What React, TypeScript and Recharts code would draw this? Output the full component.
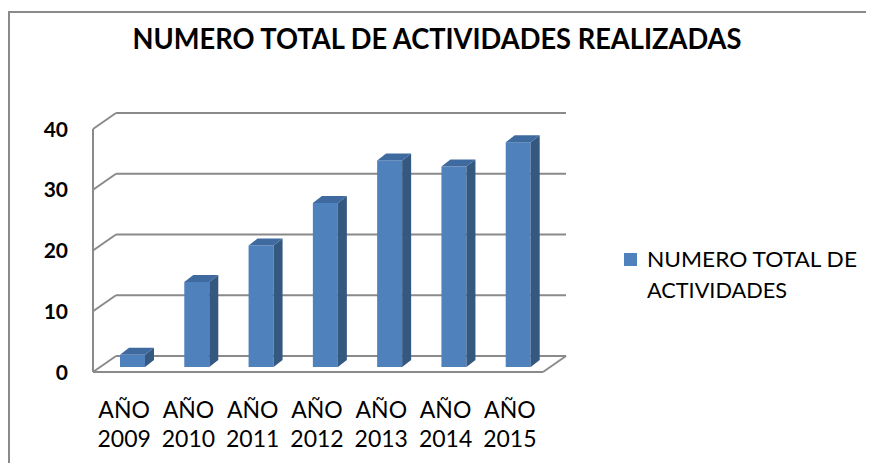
import React from 'react';
import { BarChart, Bar, XAxis, YAxis, CartesianGrid } from 'recharts';

const years = ['AÑO 2009', 'AÑO 2010', 'AÑO 2011', 'AÑO 2012', 'AÑO 2013', 'AÑO 2014', 'AÑO 2015'];
const totals = [2, 14, 20, 27, 34, 33, 37];
const yTicks = [0, 10, 20, 30, 40];
const seriesName = 'NUMERO TOTAL DE ACTIVIDADES';
const legendLines = ['NUMERO TOTAL DE', 'ACTIVIDADES'];
const title = 'NUMERO TOTAL DE ACTIVIDADES REALIZADAS';

const data = years.map((name, i) => ({ name, total: totals[i] }));

const W = 874;
const H = 471;
const MARGIN = { top: 124, right: 324, bottom: 44, left: 40 };
const XAXIS_H = 60;
const PLOT_TOP = MARGIN.top;
const PLOT_BOTTOM = H - MARGIN.bottom - XAXIS_H;

// perspective offsets from the bar plane
const FRONT = { dx: -7, dy: 5 };
const BACK = { dx: 16, dy: -11 };
const DEPTH = { dx: 9, dy: -7 };

const FONT = 'Lato, "Open Sans", sans-serif';
const GRID = '#8a8a8a';
const BLUE = '#4f81bd';
const BLUE_SIDE = '#34587f';
const BLUE_TOP = '#3f6aa0';

const Bar3D = (props: any) => {
  const { x, y, width, height } = props;
  if (height == null || height <= 0) return null;
  const r = x + width;
  const b = y + height;
  return (
    <g>
      <rect x={x} y={y} width={width} height={height} fill={BLUE} />
      <polygon
        points={`${r},${y} ${r + DEPTH.dx},${y + DEPTH.dy} ${r + DEPTH.dx},${b + DEPTH.dy} ${r},${b}`}
        fill={BLUE_SIDE}
      />
      <polygon
        points={`${x},${y} ${x + DEPTH.dx},${y + DEPTH.dy} ${r + DEPTH.dx},${y + DEPTH.dy} ${r},${y}`}
        fill={BLUE_TOP}
      />
    </g>
  );
};

const GridLine = (props: any) => {
  const { x1, x2, y1 } = props;
  const y = y1;
  const isBottom = y >= PLOT_BOTTOM - 1;
  return (
    <g key={props.key} stroke={GRID} strokeWidth={2} fill="none">
      <line x1={x1 + BACK.dx} y1={y + BACK.dy} x2={x2 + BACK.dx} y2={y + BACK.dy} />
      <line x1={x1 + FRONT.dx} y1={y + FRONT.dy} x2={x1 + BACK.dx} y2={y + BACK.dy} />
      {isBottom && (
        <>
          <line x1={x1 + FRONT.dx} y1={y + FRONT.dy} x2={x2 + FRONT.dx} y2={y + FRONT.dy} />
          <line x1={x2 + FRONT.dx} y1={y + FRONT.dy} x2={x2 + BACK.dx} y2={y + BACK.dy} />
          <line x1={x1 + FRONT.dx} y1={PLOT_TOP + FRONT.dy} x2={x1 + FRONT.dx} y2={y + FRONT.dy} />
        </>
      )}
    </g>
  );
};

const YTick = (props: any) => {
  const { y, payload } = props;
  return (
    <text x={68} y={y + FRONT.dy + 7.5} textAnchor="end" fontFamily={FONT} fontWeight={700} fontSize={21} fill="#000">
      {payload.value}
    </text>
  );
};

const XTick = (props: any) => {
  const { x, payload } = props;
  const [a, b] = String(payload.value).split(' ');
  return (
    <g>
      <text x={x - 8} y={418} textAnchor="middle" fontFamily={FONT} fontSize={23} fill="#000">{a}</text>
      <text x={x - 8} y={447} textAnchor="middle" fontFamily={FONT} fontSize={23} fill="#000">{b}</text>
    </g>
  );
};

export default function App() {
  return (
    <div style={{ position: 'relative', width: W, height: H, margin: -8, overflow: 'hidden', background: '#fff' }}>
      <BarChart width={W} height={H} data={data} margin={MARGIN}>
        <CartesianGrid vertical={false} horizontal={GridLine} stroke={GRID} />
        <XAxis dataKey="name" height={XAXIS_H} axisLine={false} tickLine={false} interval={0} tick={XTick} />
        <YAxis domain={[0, 40]} ticks={yTicks} width={60} axisLine={false} tickLine={false} tick={YTick} />
        <Bar dataKey="total" name={seriesName} barSize={25} fill={BLUE} shape={Bar3D} isAnimationActive={false} />
      </BarChart>
      <svg width={W} height={H} style={{ position: 'absolute', left: 0, top: 0, pointerEvents: 'none' }}>
        <path d={`M9,${H} L9,12 L${W + 5},12`} stroke={GRID} strokeWidth={2} fill="none" />
        <text x={437} y={49} textAnchor="middle" fontFamily={FONT} fontWeight={700} fontSize={28}
          textLength={609} lengthAdjust="spacingAndGlyphs" fill="#000">
          {title}
        </text>
        <rect x={624} y={253} width={13} height={13} fill={BLUE} />
        <text x={647} y={267} fontFamily={FONT} fontSize={22} textLength={210} lengthAdjust="spacingAndGlyphs" fill="#000">
          {legendLines[0]}
        </text>
        <text x={647} y={298} fontFamily={FONT} fontSize={22} textLength={140} lengthAdjust="spacingAndGlyphs" fill="#000">
          {legendLines[1]}
        </text>
      </svg>
    </div>
  );
}
